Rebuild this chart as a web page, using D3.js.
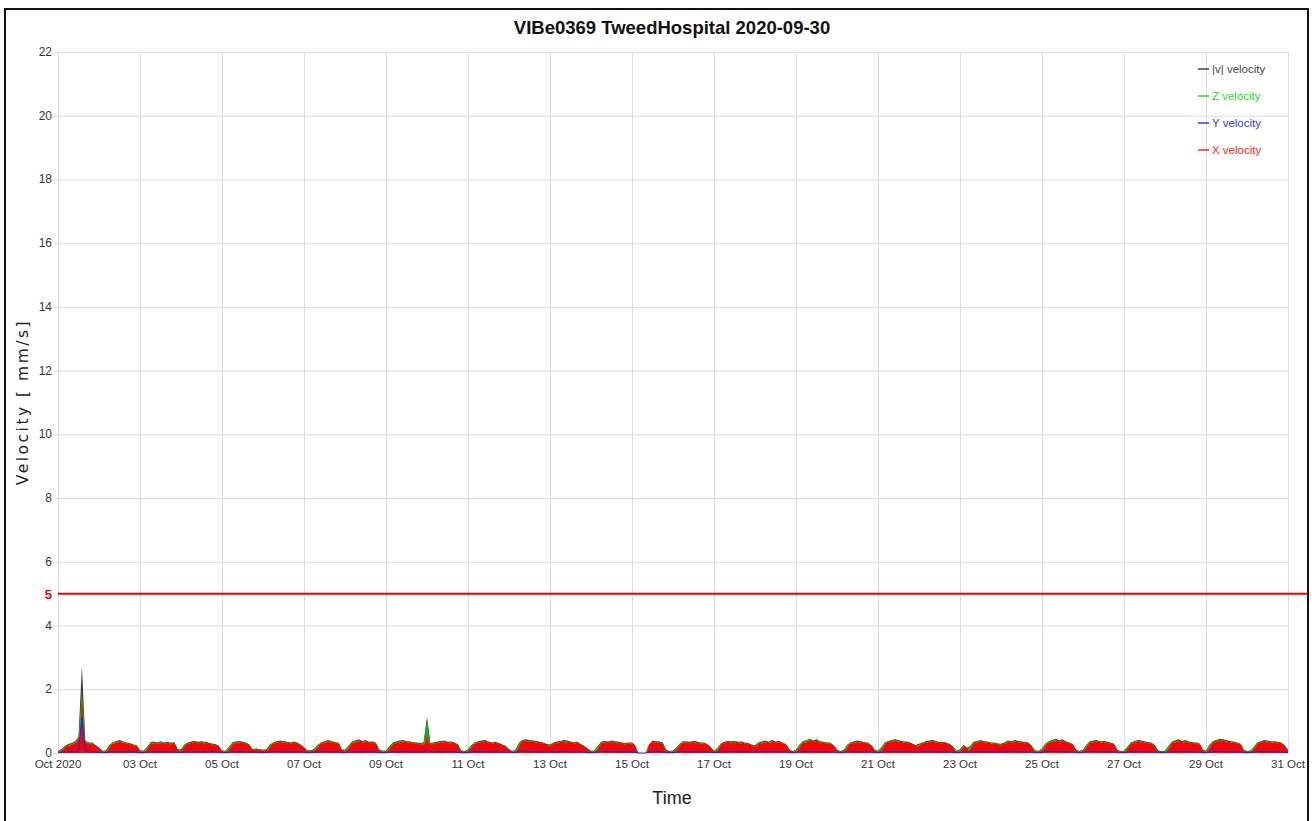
<!DOCTYPE html>
<html><head><meta charset="utf-8">
<script src="https://cdn.jsdelivr.net/npm/d3@7"></script>
<style>
html,body{margin:0;padding:0;background:#fff;}
svg{display:block;}
</style></head>
<body>
<svg id="chart" width="1312" height="821"></svg>
<script>
// ---------------- DATA ----------------
const TITLE = "VIBe0369 TweedHospital 2020-09-30";
const X_LABEL = "Time";
const Y_LABEL = "Velocity [ mm/s]";
const START = "2020-10-01T00:00:00Z";
const END = "2020-10-31T00:00:00Z";
const Y_TICKS = [0,2,4,6,8,10,12,14,16,18,20,22];
const X_TICK_DAYS = [1,3,5,7,9,11,13,15,17,19,21,23,25,27,29,31];
const THRESHOLD = 5;
const SERIES_NAMES = ["|v| velocity","Z velocity","Y velocity","X velocity"];
const SERIES_COLORS = ["#444444","#22dd22","#3333ff","#ff2222"];

// X velocity, hourly samples (one row per day, Oct 1..30), plus Oct 31 00:00
const X_VEL = [
.03,.04,.06,.1,.15,.2,.24,.2,.28,.25,.33,.3,.45,.36,1.8,.52,.34,.28,.3,.26,.29,.24,.22,.18,
.14,.1,.05,.04,.04,.06,.14,.22,.3,.27,.34,.3,.38,.36,.3,.33,.27,.3,.25,.28,.24,.2,.22,.16,
.06,.04,.04,.05,.08,.16,.24,.3,.26,.33,.28,.3,.26,.34,.3,.27,.32,.28,.25,.29,.31,.24,.1,.06,
.05,.1,.18,.24,.3,.27,.33,.29,.35,.3,.32,.28,.34,.3,.26,.32,.28,.3,.24,.27,.22,.25,.2,.14,
.06,.04,.03,.05,.08,.16,.24,.3,.27,.33,.28,.35,.3,.32,.26,.3,.24,.14,.1,.08,.12,.09,.1,.07,
.08,.06,.1,.08,.16,.24,.3,.28,.34,.3,.36,.32,.3,.34,.28,.32,.3,.26,.33,.29,.3,.27,.24,.2,
.15,.12,.06,.05,.07,.05,.08,.1,.14,.22,.3,.28,.34,.3,.38,.33,.3,.35,.31,.28,.3,.25,.1,.06,
.05,.08,.12,.2,.28,.32,.3,.36,.33,.4,.35,.3,.34,.38,.32,.3,.33,.28,.3,.22,.08,.05,.04,.05,
.04,.06,.1,.18,.25,.3,.28,.33,.3,.36,.32,.38,.34,.3,.33,.29,.31,.28,.3,.26,.28,.25,.27,.3,
.55,.3,.28,.25,.3,.27,.32,.3,.35,.33,.3,.36,.32,.3,.28,.33,.3,.27,.25,.12,.06,.05,.04,.04,
.05,.1,.16,.22,.28,.3,.34,.3,.36,.32,.38,.34,.3,.33,.3,.28,.32,.3,.26,.28,.24,.22,.2,.16,
.1,.07,.04,.03,.05,.1,.2,.3,.38,.35,.4,.36,.38,.34,.36,.33,.3,.35,.32,.3,.28,.3,.25,.22,
.2,.24,.28,.3,.33,.3,.35,.33,.38,.3,.34,.36,.3,.33,.3,.28,.32,.27,.25,.22,.2,.18,.12,.08,
.05,.04,.04,.06,.12,.2,.28,.32,.3,.35,.33,.3,.36,.31,.34,.3,.28,.32,.3,.27,.25,.28,.3,.26,
.28,.3,.22,0,0,0,0,0,0,0,.24,.3,.36,.32,.34,.3,.33,.28,.3,.15,.08,.05,.04,.03,
.04,.06,.08,.15,.22,.28,.3,.34,.3,.33,.28,.32,.35,.3,.33,.29,.3,.26,.28,.3,.25,.22,.18,.1,
.05,.04,.06,.14,.22,.28,.32,.3,.35,.33,.3,.34,.3,.36,.32,.28,.3,.33,.27,.3,.26,.28,.24,.2,
.18,.22,.26,.3,.28,.33,.3,.36,.32,.3,.34,.38,.33,.3,.35,.31,.28,.3,.26,.22,.1,.06,.04,.04,
.05,.08,.15,.24,.3,.34,.3,.38,.35,.42,.36,.33,.4,.35,.3,.34,.32,.28,.3,.27,.3,.25,.22,.18,
.08,.05,.04,.04,.06,.08,.15,.24,.3,.28,.34,.3,.36,.32,.3,.34,.31,.28,.3,.26,.22,.2,.08,.05,
.04,.05,.08,.16,.24,.3,.35,.32,.38,.34,.4,.36,.33,.38,.34,.3,.33,.3,.28,.32,.27,.25,.22,.2,
.22,.26,.3,.28,.34,.3,.36,.32,.38,.34,.3,.35,.31,.3,.28,.32,.3,.27,.25,.22,.18,.08,.05,.04,
.05,.1,.18,.22,.15,.06,.1,.2,.28,.32,.3,.35,.33,.38,.34,.3,.33,.31,.28,.3,.26,.3,.27,.24,
.22,.26,.3,.28,.33,.36,.3,.34,.32,.38,.35,.3,.33,.3,.28,.32,.3,.26,.2,.1,.06,.04,.04,.05,
.06,.12,.2,.28,.3,.34,.32,.38,.34,.42,.36,.3,.4,.35,.32,.34,.3,.28,.25,.2,.08,.05,.04,.04,
.05,.08,.15,.24,.3,.34,.3,.36,.32,.38,.33,.3,.35,.31,.33,.3,.28,.3,.26,.22,.08,.05,.04,.04,
.04,.05,.1,.18,.26,.3,.34,.3,.38,.35,.32,.36,.3,.34,.31,.28,.3,.25,.22,.1,.06,.04,.04,.04,
.05,.04,.1,.2,.28,.32,.3,.36,.33,.4,.35,.3,.38,.34,.3,.33,.31,.28,.3,.26,.28,.24,.1,.05,
.04,.05,.12,.22,.3,.34,.38,.33,.42,.36,.4,.35,.32,.38,.34,.3,.33,.3,.28,.3,.26,.24,.08,.05,
.04,.04,.04,.06,.1,.18,.26,.3,.34,.32,.38,.35,.3,.36,.33,.3,.34,.31,.28,.32,.3,.26,.22,.12,
.08
];

// |v| velocity, 2-hourly samples
const V_MAG = [
.06,.12,.22,.28,.31,.37,.5,2.72,.38,.33,.33,.25,
.17,.07,.08,.25,.33,.38,.41,.36,.33,.31,.27,.25,
.08,.07,.18,.33,.36,.33,.37,.33,.35,.32,.34,.12,
.12,.27,.33,.36,.38,.35,.37,.35,.33,.3,.28,.23,
.08,.07,.19,.33,.36,.38,.35,.33,.27,.12,.14,.12,
.1,.12,.27,.33,.37,.39,.37,.35,.33,.36,.33,.27,
.18,.08,.09,.13,.25,.33,.37,.41,.38,.34,.33,.12,
.1,.23,.35,.39,.43,.38,.41,.35,.36,.33,.1,.07,
.08,.21,.33,.36,.39,.41,.37,.36,.34,.33,.31,.33,
1.12,.31,.33,.35,.38,.39,.35,.36,.33,.28,.08,.06,
.12,.25,.33,.37,.39,.41,.36,.33,.35,.31,.27,.23,
.12,.06,.12,.33,.41,.43,.41,.39,.38,.35,.33,.28,
.27,.33,.36,.38,.41,.39,.36,.33,.35,.28,.23,.14,
.07,.08,.23,.35,.38,.36,.39,.37,.35,.33,.31,.33,
.33,.2,0,0,0,.27,.39,.37,.36,.33,.1,.06,
.08,.17,.3,.37,.36,.35,.38,.36,.33,.33,.28,.2,
.07,.16,.3,.35,.38,.37,.38,.35,.36,.33,.31,.27,
.24,.33,.36,.39,.35,.41,.36,.38,.33,.28,.12,.06,
.1,.26,.37,.4,.45,.39,.43,.37,.35,.33,.33,.24,
.1,.06,.1,.26,.33,.37,.39,.37,.34,.33,.25,.1,
.07,.18,.33,.38,.41,.43,.41,.37,.36,.35,.3,.25,
.29,.33,.37,.39,.41,.38,.34,.35,.33,.28,.2,.07,
.12,.25,.17,.22,.35,.38,.41,.37,.36,.33,.33,.3,
.29,.33,.39,.37,.41,.38,.36,.35,.33,.23,.08,.07,
.14,.3,.37,.41,.45,.39,.43,.37,.33,.28,.1,.06,
.1,.26,.37,.39,.41,.36,.38,.36,.33,.29,.1,.06,
.07,.2,.33,.37,.41,.39,.37,.34,.33,.25,.08,.06,
.07,.22,.35,.39,.43,.38,.41,.36,.34,.33,.31,.12,
.07,.25,.37,.41,.45,.43,.41,.37,.36,.33,.29,.1,
.06,.08,.2,.33,.37,.41,.39,.36,.37,.35,.33,.25,
.1
];

// Z velocity, 2-hourly samples
const Z_VEL = [
.05,.1,.2,.26,.3,.35,.47,2.05,.36,.31,.31,.23,
.15,.06,.07,.23,.32,.36,.4,.35,.31,.3,.26,.23,
.07,.06,.17,.31,.34,.31,.36,.32,.33,.3,.33,.11,
.11,.25,.31,.34,.36,.33,.35,.33,.31,.28,.26,.21,
.07,.06,.17,.31,.34,.36,.34,.32,.25,.11,.13,.11,
.09,.11,.25,.31,.35,.37,.35,.33,.31,.34,.31,.25,
.16,.07,.08,.11,.23,.31,.35,.39,.36,.32,.31,.11,
.09,.21,.33,.37,.41,.36,.39,.33,.34,.31,.09,.06,
.07,.19,.31,.34,.37,.39,.35,.34,.32,.31,.29,.31,
1.05,.3,.31,.33,.36,.37,.33,.34,.31,.26,.07,.05,
.11,.23,.31,.35,.37,.39,.34,.31,.33,.29,.25,.21,
.11,.05,.11,.31,.39,.41,.39,.37,.36,.33,.31,.26,
.25,.31,.34,.36,.39,.37,.34,.31,.33,.26,.21,.13,
.06,.07,.21,.33,.36,.34,.37,.35,.33,.31,.29,.31,
.31,.19,0,0,0,.25,.37,.35,.34,.31,.09,.05,
.07,.16,.28,.35,.34,.33,.36,.34,.31,.31,.26,.19,
.06,.15,.28,.33,.36,.35,.37,.33,.34,.31,.29,.25,
.23,.31,.34,.37,.33,.39,.34,.36,.31,.27,.11,.05,
.09,.25,.35,.39,.43,.37,.41,.35,.33,.31,.31,.23,
.09,.05,.09,.25,.31,.35,.37,.35,.32,.31,.23,.09,
.06,.17,.31,.36,.39,.41,.39,.35,.34,.33,.28,.23,
.27,.31,.35,.37,.39,.36,.32,.33,.31,.26,.19,.06,
.11,.23,.16,.21,.33,.36,.39,.35,.34,.31,.31,.28,
.27,.31,.37,.35,.39,.36,.34,.33,.31,.21,.07,.06,
.13,.29,.35,.39,.43,.37,.41,.35,.31,.26,.09,.05,
.09,.25,.35,.37,.39,.34,.36,.34,.31,.27,.09,.05,
.06,.19,.31,.35,.39,.37,.35,.32,.31,.23,.07,.05,
.06,.21,.33,.37,.41,.36,.39,.34,.32,.31,.29,.11,
.06,.23,.35,.39,.43,.41,.39,.35,.34,.31,.27,.09,
.05,.07,.19,.31,.35,.39,.37,.34,.35,.33,.31,.23,
.09
];

// Y velocity, 2-hourly samples
const Y_VEL = [
.01,.02,.03,.03,.04,.03,.04,1.1,.04,.03,.03,.02,
.02,.01,.01,.03,.04,.03,.04,.03,.04,.03,.03,.02,
.01,.01,.02,.04,.03,.04,.03,.04,.03,.04,.03,.01,
.02,.03,.04,.03,.05,.04,.03,.04,.03,.04,.03,.02,
.01,.01,.02,.04,.03,.05,.04,.03,.03,.02,.02,.01,
.01,.02,.03,.04,.05,.04,.03,.04,.04,.03,.04,.03,
.02,.01,.01,.02,.03,.04,.05,.04,.03,.04,.03,.01,
.01,.03,.04,.03,.05,.04,.04,.03,.04,.03,.01,.01,
.01,.02,.04,.03,.04,.05,.04,.03,.04,.03,.03,.04,
.1,.04,.03,.04,.05,.04,.03,.04,.03,.02,.01,.01,
.01,.03,.04,.04,.05,.04,.03,.04,.03,.04,.03,.02,
.02,.01,.02,.04,.05,.04,.05,.04,.03,.04,.03,.03,
.03,.04,.03,.05,.04,.04,.03,.04,.03,.03,.02,.01,
.01,.01,.03,.04,.05,.04,.04,.05,.03,.04,.03,.04,
.03,.02,0,0,0,.03,.04,.05,.04,.03,.01,.01,
.01,.02,.03,.04,.05,.04,.04,.03,.04,.03,.03,.02,
.01,.02,.04,.03,.05,.04,.05,.04,.03,.04,.03,.03,
.03,.04,.04,.05,.04,.05,.04,.04,.03,.03,.01,.01,
.01,.03,.04,.05,.05,.04,.05,.04,.03,.04,.03,.03,
.01,.01,.01,.03,.04,.05,.04,.04,.03,.04,.03,.01,
.01,.02,.04,.05,.04,.05,.04,.04,.03,.04,.03,.03,
.03,.04,.05,.04,.05,.04,.03,.04,.03,.03,.02,.01,
.01,.03,.02,.03,.04,.05,.04,.04,.03,.04,.03,.03,
.03,.04,.05,.04,.05,.04,.04,.04,.03,.02,.01,.01,
.01,.04,.04,.05,.05,.04,.05,.04,.03,.03,.01,.01,
.01,.03,.04,.05,.04,.04,.05,.04,.03,.03,.01,.01,
.01,.02,.04,.04,.05,.04,.04,.03,.03,.02,.01,.01,
.01,.03,.04,.04,.05,.04,.05,.04,.03,.03,.03,.01,
.01,.03,.04,.05,.05,.05,.04,.04,.03,.03,.03,.01,
.01,.01,.02,.04,.04,.05,.04,.04,.04,.03,.03,.02,
.01
];

// ---------------- CHART ----------------
const svg = d3.select("#chart");
const t0 = new Date(START), t1 = new Date(END);

const x = d3.scaleUtc().domain([t0, t1]).range([58, 1288]);
const y = d3.scaleLinear().domain([0, 22]).range([753, 52]);

const toPts = (arr, stepHours) => arr.map((v,i) => ({t: d3.utcHour.offset(t0, i*stepHours), v}));

// outer frame
svg.append("rect").attr("x",5).attr("y",9).attr("width",1303).attr("height",830)
  .attr("fill","none").attr("stroke","#111").attr("stroke-width",2);

// title
svg.append("text").attr("x",672).attr("y",34).attr("text-anchor","middle")
  .attr("font-family","'Liberation Sans', Arial, sans-serif").attr("font-weight","bold")
  .attr("font-size","18.5px").attr("fill","#111").text(TITLE);

// grid
const grid = svg.append("g");
const xr = x.range();
grid.selectAll("line.h").data(Y_TICKS).join("line")
  .attr("x1", xr[0]-5).attr("x2", xr[1]).attr("y1", d=>y(d)+0.5).attr("y2", d=>y(d)+0.5)
  .attr("stroke","#dcdcdc").attr("stroke-width",1);
const xTickDates = X_TICK_DAYS.map(d => new Date(Date.UTC(2020, 9, d)));
grid.selectAll("line.v").data(xTickDates).join("line")
  .attr("x1", d=>Math.round(x(d))+0.5).attr("x2", d=>Math.round(x(d))+0.5)
  .attr("y1", y(22)).attr("y2", y(0))
  .attr("stroke","#dcdcdc").attr("stroke-width",1);

// y tick labels
svg.append("g").selectAll("text").data(Y_TICKS).join("text")
  .attr("x", xr[0]-6).attr("y", d=>y(d)+4).attr("text-anchor","end")
  .attr("font-family","'Liberation Sans', Arial, sans-serif").attr("font-size","12px")
  .attr("fill","#333").text(d=>d);

// x tick labels
const fmt = d3.utcFormat("%d Oct");
svg.append("g").selectAll("text").data(xTickDates).join("text")
  .attr("x", d=>x(d)).attr("y", 768).attr("text-anchor","middle")
  .attr("font-family","'Liberation Sans', Arial, sans-serif").attr("font-size","11.5px")
  .attr("fill","#333").text((d,i)=> i===0 ? "Oct 2020" : fmt(d));

// axis titles
svg.append("text").attr("x",672).attr("y",804).attr("text-anchor","middle")
  .attr("font-family","'Liberation Sans', Arial, sans-serif").attr("font-size","18px")
  .attr("fill","#222").text(X_LABEL);
svg.append("text").attr("transform","translate(28,402) rotate(-90)").attr("text-anchor","middle")
  .attr("font-family","'DejaVu Sans', sans-serif").attr("font-size","15.5px")
  .attr("letter-spacing","2.5px").attr("fill","#222").text(Y_LABEL);

// series
const area = d3.area().x(d=>x(d.t)).y0(y(0)).y1(d=>y(d.v));
const series = [
  {pts: toPts(V_MAG,2), color:"#333333"},
  {pts: toPts(Z_VEL,2), color:"#22aa22"},
  {pts: toPts(X_VEL,1), color:"#ff0000"}
];
const plot = svg.append("g");
series.forEach(s => {
  plot.append("path").datum(s.pts).attr("d", area).attr("fill", s.color);
});
const line = d3.line().x(d=>x(d.t)).y(d=>y(d.v));
plot.append("path").datum(toPts(Y_VEL,2)).attr("d", line)
  .attr("fill","none").attr("stroke","#2222ee").attr("stroke-width",1);

// threshold
svg.append("line").attr("x1", xr[0]).attr("x2", 1308).attr("y1", y(THRESHOLD)).attr("y2", y(THRESHOLD))
  .attr("stroke","#ee0000").attr("stroke-width",2);
svg.append("text").attr("x", xr[0]-6).attr("y", y(THRESHOLD)+5).attr("text-anchor","end")
  .attr("font-family","'Liberation Sans', Arial, sans-serif").attr("font-size","13px").attr("font-weight","bold")
  .attr("fill","#ee0000").text(THRESHOLD);

// legend
const legend = svg.append("g");
SERIES_NAMES.forEach((n,i) => {
  const ly = 69 + i*27;
  legend.append("line").attr("x1",1198).attr("x2",1209).attr("y1",ly).attr("y2",ly)
    .attr("stroke", SERIES_COLORS[i]).attr("stroke-width",1.5);
  legend.append("text").attr("x",1212).attr("y",ly+4)
    .attr("font-family","'Liberation Sans', Arial, sans-serif").attr("font-size","11.5px")
    .attr("fill", SERIES_COLORS[i]).text(n);
});
</script>
</body></html>
